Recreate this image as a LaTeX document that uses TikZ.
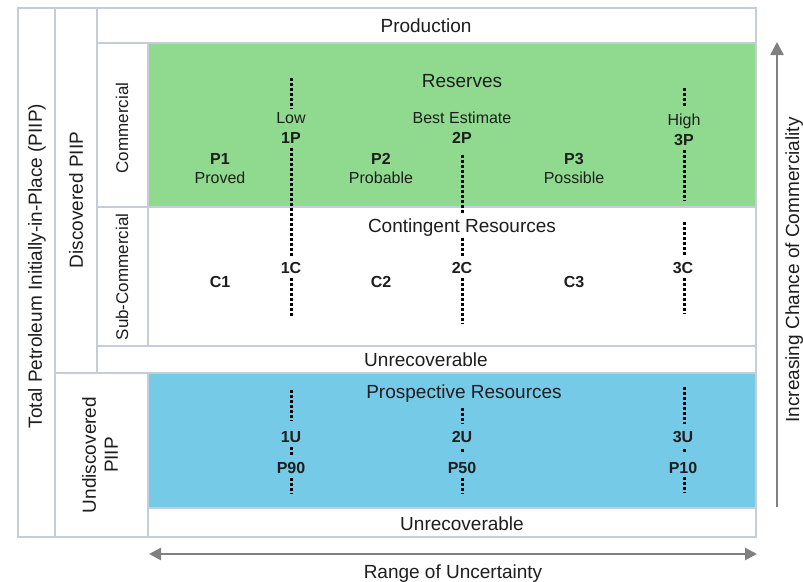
\documentclass[tikz,border=0pt]{standalone}
\usepackage{fontspec}
\setmainfont{Liberation Sans}
\usetikzlibrary{arrows.meta}
\definecolor{grn}{RGB}{143,218,142}
\definecolor{blu}{RGB}{117,202,232}
\definecolor{brd}{RGB}{196,205,216}
\definecolor{arr}{RGB}{128,128,128}
\definecolor{txt}{RGB}{30,30,30}
\begin{document}
\begin{tikzpicture}[x=1pt,y=-1pt,
 cell/.style={draw=brd,line width=1.6pt},
 big/.style={font=\fontsize{19}{22}\selectfont, text=txt, inner sep=0pt, anchor=base},
 sml/.style={font=\fontsize{16}{19}\selectfont, text=txt, inner sep=0pt, anchor=base},
 bld/.style={font=\fontsize{16}{19}\selectfont\bfseries, text=txt, inner sep=0pt, anchor=base},
 side/.style={font=\fontsize{19}{22}\selectfont, text=txt, rotate=90, inner sep=0pt, anchor=center},
 sidesm/.style={font=\fontsize{17}{20}\selectfont, text=txt, rotate=90, inner sep=0pt, anchor=center},
 dots/.style={line width=3pt, dash pattern=on 2.5pt off 2.5pt, black},
 garrow/.style={draw=arr, line width=2.5pt, -{Triangle[length=13pt,width=13pt]}},
 garrow2/.style={draw=arr, line width=2.5pt, {Triangle[length=12pt,width=12pt]}-{Triangle[length=12pt,width=12pt]}}]
\useasboundingbox (0,0) rectangle (803,581);
\fill[white] (0,0) rectangle (803,581);
% fills
\fill[grn] (148,43) rectangle (756,207);
\fill[blu] (148,373) rectangle (756,508);
% borders
\draw[cell] (18,8) rectangle (756,537);
\draw[cell] (55,8) -- (55,537);
\draw[cell] (97,8) -- (97,373);
\draw[cell] (97,43) -- (756,43);
\draw[cell] (148,43) -- (148,346);
\draw[cell] (97,207) -- (756,207);
\draw[cell] (97,346) -- (756,346);
\draw[cell] (55,373) -- (756,373);
\draw[cell] (148,373) -- (148,537);
\draw[cell] (148,508) -- (756,508);
% side labels
\node[side] (tpiip) at (37,266) {Total Petroleum Initially-in-Place (PIIP)};
\node[side] (dpiip) at (76,200) {Discovered PIIP};
\node[sidesm] (comm) at (122,128) {Commercial};
\node[sidesm] (subc) at (122,277) {Sub-Commercial};
\node[side, align=center] (upiip) at (100,455) {Undiscovered\\PIIP};
% row labels
\node[big] (prod) at (426,32) {Production};
\node[big] (res) at (462,87) {Reserves};
\node[big] (cont) at (462,232) {Contingent Resources};
\node[big] (unr1) at (426,366) {Unrecoverable};
\node[big] (pros) at (464,398) {Prospective Resources};
\node[big] (unr2) at (462,530) {Unrecoverable};
% reserves
\node[sml] (low) at (291,123) {Low};
\node[bld] (p1p) at (291,143) {1P};
\node[sml] (best) at (462,123) {Best Estimate};
\node[bld] (p2p) at (462,143) {2P};
\node[sml] (high) at (684,125) {High};
\node[bld] (p3p) at (684,145) {3P};
\node[bld] (P1) at (220,164) {P1};
\node[sml] (prv) at (220,183) {Proved};
\node[bld] (P2) at (381,164) {P2};
\node[sml] (prb) at (381,183) {Probable};
\node[bld] (P3) at (574,164) {P3};
\node[sml] (pos) at (574,183) {Possible};
% contingent
\node[bld] (C1) at (220,287) {C1};
\node[bld] (C2) at (381,287) {C2};
\node[bld] (C3) at (574,287) {C3};
\node[bld] (c1c) at (291,273) {1C};
\node[bld] (c2c) at (462,273) {2C};
\node[bld] (c3c) at (683,273) {3C};
% prospective
\node[bld] (u1) at (291,442) {1U};
\node[bld] (u2) at (462,442) {2U};
\node[bld] (u3) at (683,442) {3U};
\node[bld] (p90) at (291,473) {P90};
\node[bld] (p50) at (462,473) {P50};
\node[bld] (p10) at (683,473) {P10};
% dotted lines
\draw[dots] (291,78) -- (291,109);
\draw[dots] (291,148) -- (291,256);
\draw[dots] (291,278) -- (291,316);
\draw[dots] (462,155) -- (462,214);
\draw[dots] (462,238) -- (462,256);
\draw[dots] (462,278) -- (462,324);
\draw[dots] (684,88) -- (684,106);
\draw[dots] (684,150) -- (684,201);
\draw[dots] (684,222) -- (684,256);
\draw[dots] (684,278) -- (684,314);
\draw[dots] (291,390) -- (291,421);
\draw[dots] (291,447) -- (291,456);
\draw[dots] (291,478) -- (291,494);
\draw[dots] (462,408) -- (462,424);
\draw[dots] (462,449) -- (462,452);
\draw[dots] (462,478) -- (462,494);
\draw[dots] (684,387) -- (684,424);
\draw[dots] (684,449) -- (684,452);
\draw[dots] (684,477) -- (684,493);
% arrows
\coordinate (vb) at (777,507);
\coordinate (vt) at (777,42);
\draw[garrow] (vb) -- (vt);
\coordinate (hl) at (149,554);
\coordinate (hr) at (757,554);
\draw[garrow2] (hl) -- (hr);
\node[big] (range) at (453,578) {Range of Uncertainty};
\node[font=\fontsize{19}{22}\selectfont, text=txt, rotate=90, inner sep=0pt, anchor=base] (incr) at (799,270) {Increasing Chance of Commerciality};
\end{tikzpicture}
\end{document}
